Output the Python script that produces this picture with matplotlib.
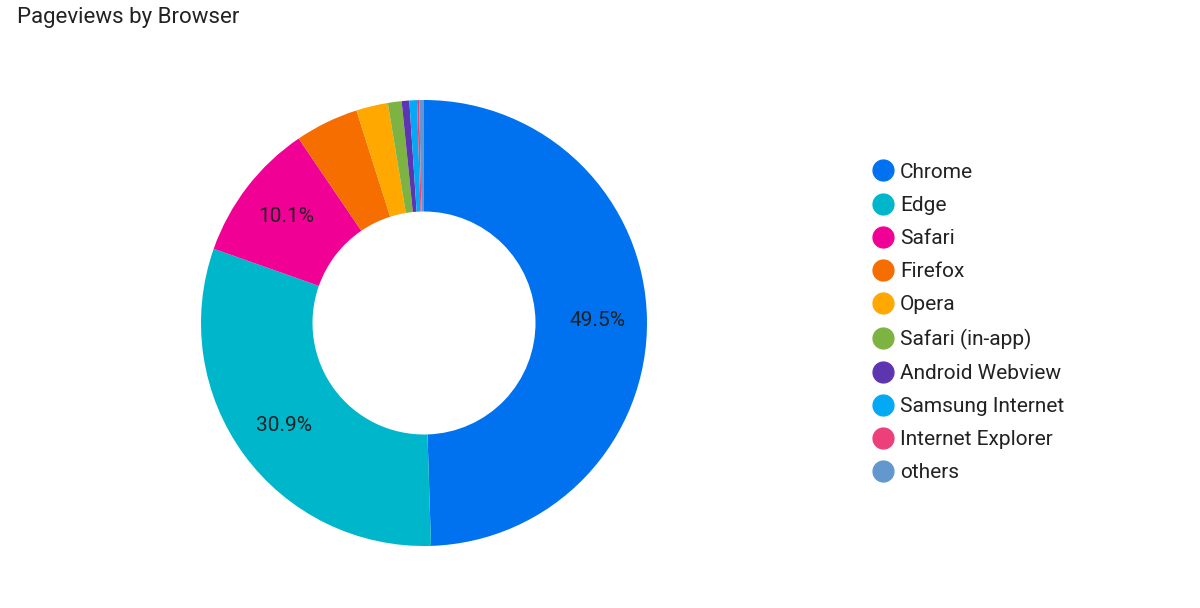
import matplotlib
matplotlib.use("Agg")
import matplotlib.pyplot as plt
from matplotlib.lines import Line2D

plt.rcParams["font.family"] = ["Roboto", "DejaVu Sans"]

browsers = ["Chrome", "Edge", "Safari", "Firefox", "Opera", "Safari (in-app)",
            "Android Webview", "Samsung Internet", "Internet Explorer", "others"]
shares = [49.5, 30.9, 10.1, 4.6, 2.3, 1.0, 0.55, 0.55, 0.15, 0.35]
colors = ["#0072f0", "#00b6cb", "#f10096", "#f66d00", "#ffa800", "#7cb342",
          "#5e35b1", "#03a9f4", "#ec407a", "#6398cf"]


def pct_label(p):
    return f"{p:.1f}%" if p >= 10 else ""


fig = plt.figure(figsize=(12, 6.08), dpi=100)
fig.text(17 / 1200, 1 - 18 / 608, "Pageviews by Browser", fontsize=16,
         color="#222222", va="center", ha="left")

ax = fig.add_axes([201 / 1200, 62 / 608, 446 / 1200, 446 / 608])
wedges, _, autotexts = ax.pie(
    shares, colors=colors, startangle=90, counterclock=False, radius=1.0,
    autopct=pct_label, pctdistance=0.78,
    wedgeprops=dict(width=0.5, linewidth=0),
    textprops=dict(fontsize=15, color="#222222"),
)
ax.set_xlim(-1, 1)
ax.set_ylim(-1, 1)
ax.set_aspect("equal")
ax.axis("off")

handles = [Line2D([0], [0], marker="o", linestyle="none", markersize=15,
                  markerfacecolor=c, markeredgecolor=c) for c in colors]
fig.legend(handles, browsers, loc="upper left",
           bbox_to_anchor=(852 / 1200, 1 - 144 / 608), frameon=False,
           fontsize=15, labelspacing=0.68, handletextpad=0.2,
           handlelength=1.2, labelcolor="#222222")

fig.savefig("out.png", dpi=100, facecolor="white")
